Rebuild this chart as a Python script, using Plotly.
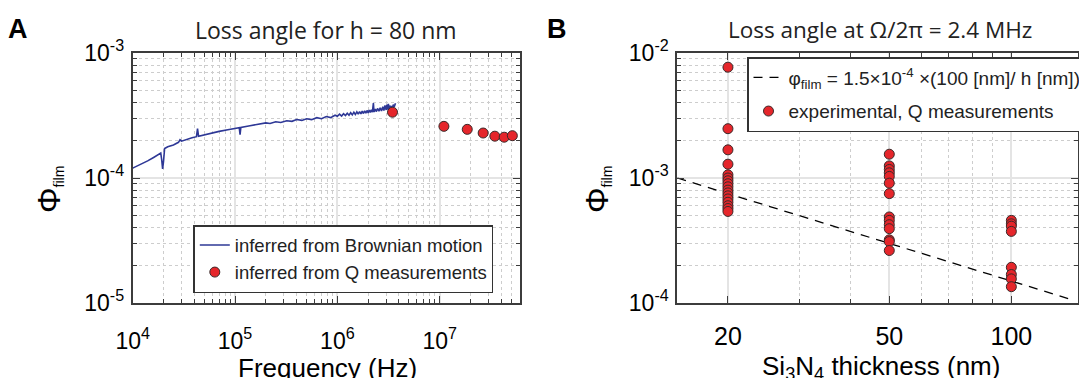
import plotly.graph_objects as go

# ---------------- Panel A data ----------------
brown_freq = [1.0e4, 1.2e4, 1.4e4, 1.6e4, 1.8e4, 1.88e4, 1.92e4, 1.96e4, 2.0e4, 2.05e4,
              2.2e4, 2.5e4, 2.8e4, 2.9e4, 3.0e4, 3.3e4, 3.8e4, 4.2e4, 4.3e4, 4.4e4,
              5.0e4, 6.0e4, 7.0e4, 8.5e4, 1.0e5, 1.1e5, 1.12e5, 1.14e5, 1.4e5, 1.8e5,
              2.0e5, 2.2e5, 2.5e5, 2.8e5, 3.2e5, 3.6e5, 4.0e5, 4.5e5, 5.0e5, 5.6e5,
              6.3e5, 7.0e5, 7.8e5, 8.6e5, 9.5e5, 1.0e6, 1.05e6, 1.1e6, 1.15e6, 1.2e6,
              1.25e6, 1.3e6, 1.35e6, 1.4e6, 1.45e6, 1.5e6, 1.55e6, 1.6e6, 1.65e6, 1.7e6,
              1.75e6, 1.8e6, 1.85e6, 1.9e6, 1.95e6, 2.0e6, 2.05e6, 2.1e6, 2.15e6, 2.2e6,
              2.25e6, 2.28e6, 2.35e6, 2.4e6, 2.48e6, 2.55e6, 2.62e6, 2.7e6, 2.78e6, 2.85e6,
              2.92e6, 3.0e6, 3.05e6, 3.1e6, 3.15e6, 3.2e6, 3.25e6, 3.3e6, 3.38e6, 3.45e6,
              3.52e6, 3.6e6, 3.7e6]
brown_phi = [1.20e-4, 1.28e-4, 1.37e-4, 1.46e-4, 1.55e-4, 1.58e-4, 1.40e-4, 1.18e-4, 1.35e-4, 1.72e-4,
             1.78e-4, 1.84e-4, 1.93e-4, 2.02e-4, 1.97e-4, 2.03e-4, 2.10e-4, 2.14e-4, 2.48e-4, 2.16e-4,
             2.22e-4, 2.30e-4, 2.36e-4, 2.43e-4, 2.50e-4, 2.53e-4, 2.22e-4, 2.54e-4, 2.62e-4, 2.70e-4,
             2.76e-4, 2.73e-4, 2.82e-4, 2.78e-4, 2.87e-4, 2.84e-4, 2.94e-4, 2.89e-4, 2.98e-4, 2.93e-4,
             3.04e-4, 2.98e-4, 3.10e-4, 3.04e-4, 3.18e-4, 3.12e-4, 3.24e-4, 3.13e-4, 3.27e-4, 3.16e-4,
             3.30e-4, 3.18e-4, 3.33e-4, 3.20e-4, 3.36e-4, 3.22e-4, 3.38e-4, 3.24e-4, 3.40e-4, 3.26e-4,
             3.43e-4, 3.28e-4, 3.45e-4, 3.30e-4, 3.47e-4, 3.32e-4, 3.50e-4, 3.34e-4, 3.52e-4, 3.36e-4,
             3.98e-4, 3.38e-4, 3.56e-4, 3.40e-4, 3.60e-4, 3.42e-4, 3.65e-4, 3.44e-4, 3.72e-4, 3.47e-4,
             3.80e-4, 3.50e-4, 3.86e-4, 3.52e-4, 3.92e-4, 3.55e-4, 3.80e-4, 3.58e-4, 3.76e-4, 3.62e-4,
             3.86e-4, 3.72e-4, 3.96e-4]

q_freq = [3.46e6, 1.10e7, 1.86e7, 2.66e7, 3.46e7, 4.27e7, 5.13e7]
q_phi = [3.36e-4, 2.59e-4, 2.45e-4, 2.29e-4, 2.16e-4, 2.12e-4, 2.18e-4]

# ---------------- Panel B data ----------------
thick_20 = [7.7e-3, 2.48e-3, 1.68e-3, 1.29e-3, 1.06e-3, 1.0e-3, 9.5e-4, 9.0e-4, 8.5e-4,
            8.0e-4, 7.6e-4, 7.2e-4, 6.8e-4, 6.4e-4, 6.0e-4, 5.7e-4, 5.4e-4]
thick_50 = [1.55e-3, 1.25e-3, 1.17e-3, 1.10e-3, 1.03e-3, 9.1e-4, 7.5e-4, 4.88e-4, 4.58e-4,
            4.23e-4, 3.93e-4, 3.2e-4, 3.1e-4, 2.63e-4]
thick_100 = [4.58e-4, 4.3e-4, 4.12e-4, 3.74e-4, 1.93e-4, 1.69e-4, 1.56e-4, 1.35e-4]
exp_h = [20] * len(thick_20) + [50] * len(thick_50) + [100] * len(thick_100)
exp_phi = thick_20 + thick_50 + thick_100

fit_h = [15, 140]
fit_phi = [1.0e-3, 1.07e-4]

xA_ticks = [1e4, 1e5, 1e6, 1e7]
xA_text = ["10<sup>4</sup>", "10<sup>5</sup>", "10<sup>6</sup>", "10<sup>7</sup>"]
yA_ticks = [1e-5, 1e-4, 1e-3]
yA_text = ["10<sup>-5</sup>", "10<sup>-4</sup>", "10<sup>-3</sup>"]
xB_ticks = [20, 50, 100]
xB_text = ["20", "50", "100"]
yB_ticks = [1e-4, 1e-3, 1e-2]
yB_text = ["10<sup>-4</sup>", "10<sup>-3</sup>", "10<sup>-2</sup>"]

W, H = 1079, 378
FONT = "Liberation Sans, Arial, sans-serif"
TFONT = "Open Sans, sans-serif"
RED = "#e5262b"
BLUE = "#2e3896"

fig = go.Figure()
fig.add_trace(go.Scatter(x=brown_freq, y=brown_phi, mode="lines",
                         line=dict(color=BLUE, width=1.6),
                         name="inferred from Brownian motion",
                         xaxis="x", yaxis="y", legend="legend"))
fig.add_trace(go.Scatter(x=q_freq, y=q_phi, mode="markers",
                         marker=dict(color=RED, size=10, line=dict(color="#3a2a2a", width=1)),
                         name="inferred from Q measurements",
                         xaxis="x", yaxis="y", legend="legend"))
fig.add_trace(go.Scatter(x=fit_h, y=fit_phi, mode="lines",
                         line=dict(color="black", width=1.3, dash="9px,7px"),
                         name="φ<sub>film</sub> = 1.5×10<sup>-4</sup> ×(100 [nm]/ h [nm])",
                         legendgroup="g1",
                         xaxis="x2", yaxis="y2", legend="legend2"))
fig.add_trace(go.Scatter(x=exp_h, y=exp_phi, mode="markers",
                         marker=dict(color=RED, size=10, line=dict(color="#3a2a2a", width=1)),
                         name="experimental, Q measurements",
                         legendgroup="g2",
                         xaxis="x2", yaxis="y2", legend="legend2"))

def px_x(p):
    return p / W

def px_y(p):
    return 1 - p / H

axis_common = dict(
    type="log", showline=True, linecolor="#3c3c3c", linewidth=2, mirror="allticks",
    ticks="inside", ticklen=7, tickcolor="#3c3c3c", tickwidth=1.2,
    showgrid=True, gridcolor="#e4e4e4", gridwidth=1.5, zeroline=False, automargin=False,
    tickmode="array", tickfont=dict(family=FONT, size=23, color="black"),
    minor=dict(dtick="D1", ticks="inside", ticklen=4, tickcolor="#3c3c3c",
               showgrid=True, gridcolor="#cdcdcd", griddash="dot", gridwidth=1),
)

yA_dom = [px_y(303), px_y(53)]
YTITLE = "<span style='font-size:32px'>Φ</span><sub>film</sub>"


def ann(text, x, y, size, family=FONT, xanchor="center", yanchor="middle", angle=0, color="black"):
    return dict(text=text, x=px_x(x), y=px_y(y), xref="paper", yref="paper",
                xanchor=xanchor, yanchor=yanchor, showarrow=False, textangle=angle,
                borderpad=0, font=dict(family=family, size=size, color=color))


fig.update_layout(
    width=W, height=H, margin=dict(l=0, r=0, t=0, b=0, autoexpand=False),
    paper_bgcolor="white", plot_bgcolor="white",
    font=dict(family=FONT, color="black"),
    xaxis=dict(axis_common, domain=[px_x(132.7), px_x(520)], range=[4, 7.785], anchor="y",
               tickvals=xA_ticks, ticktext=xA_text, ticklabelstandoff=16),
    yaxis=dict(axis_common, domain=yA_dom, range=[-5, -3], anchor="x",
               tickvals=yA_ticks, ticktext=yA_text, ticklabelstandoff=2),
    xaxis2=dict(axis_common, domain=[px_x(677.3), px_x(1078)], range=[1.1761, 2.1644], anchor="y2",
                tickvals=xB_ticks, ticktext=xB_text, ticklabelstandoff=10,
                tickfont=dict(family=FONT, size=25, color="black")),
    yaxis2=dict(axis_common, domain=yA_dom, range=[-4, -2], anchor="x2",
                tickvals=yB_ticks, ticktext=yB_text, ticklabelstandoff=2),
    legend=dict(x=px_x(193.3), y=px_y(225), xanchor="left", yanchor="top",
                bgcolor="white", bordercolor="#333333", borderwidth=1.5,
                font=dict(family=FONT, size=18.5, color="#222222"), tracegroupgap=0),
    legend2=dict(x=px_x(747), y=px_y(57), xanchor="left", yanchor="top",
                 bgcolor="white", bordercolor="#333333", borderwidth=1.5,
                 font=dict(family=FONT, size=19, color="#222222"), tracegroupgap=6),
    showlegend=True,
    annotations=[
        ann("<b>A</b>", 7, 13, 27, xanchor="left", yanchor="top"),
        ann("<b>B</b>", 546, 13, 27, xanchor="left", yanchor="top"),
        ann("Loss angle for h = 80 nm", 326, 30, 23, family=TFONT, color="#222222"),
        ann("Loss angle at Ω/2π = 2.4 MHz", 880, 30, 22.5, family=TFONT, color="#222222"),
        ann("Frequency (Hz)", 327, 352, 26, yanchor="top"),
        ann("Si<sub>3</sub>N<sub>4</sub> thickness (nm)", 881, 350, 26, yanchor="top"),
        ann(YTITLE, 49, 190, 20, angle=-90),
        ann(YTITLE, 597, 190, 20, angle=-90),
    ],
)

fig.write_html("out.html")
